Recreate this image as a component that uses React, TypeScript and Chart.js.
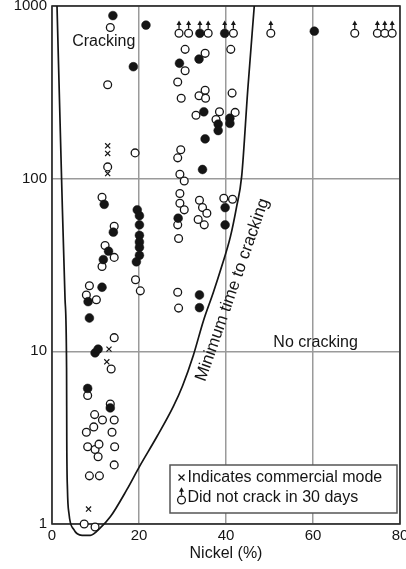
import React, { useEffect, useRef } from "react";
import { Chart, registerables } from "chart.js";

Chart.register(...registerables);

// ---- Data (x = Nickel %, y = time to cracking, hours) ----
const crackedPoints: [number, number][] = [
  [14.0, 880], [21.6, 775], [60.3, 715], [18.7, 445], [29.3, 466], [33.8, 493],
  [34.9, 244], [38.2, 207], [38.2, 190], [40.9, 224], [40.9, 209], [35.2, 170],
  [34.6, 113], [29.0, 59], [33.9, 21.2], [33.9, 17.9], [39.8, 68], [39.8, 54],
  [19.6, 66], [20.1, 61], [20.1, 54], [20.1, 47], [20.1, 43], [20.1, 40], [20.1, 36], [19.4, 33],
  [12.0, 71], [14.1, 49], [13.0, 38], [11.8, 34], [11.5, 23.5], [8.3, 19.4], [8.6, 15.6],
  [9.9, 9.8], [10.6, 10.3], [8.2, 6.1], [13.4, 4.7],
];

const notCrackedPoints: [number, number][] = [
  [13.4, 750], [12.8, 350], [19.1, 141], [12.8, 117], [30.6, 561], [35.2, 532], [41.1, 561],
  [30.6, 422], [28.9, 363], [29.7, 292], [33.8, 302], [35.2, 325], [35.3, 292], [41.4, 313],
  [33.1, 233], [38.5, 244], [37.7, 220], [42.1, 242], [29.6, 147], [28.9, 132], [29.4, 106],
  [30.4, 97], [29.4, 82], [29.4, 72], [30.4, 66], [28.9, 54], [29.1, 45], [33.9, 75],
  [34.6, 68], [35.6, 63], [33.6, 58], [35.0, 54], [39.5, 77], [41.5, 76], [19.2, 26],
  [20.3, 22.4], [28.9, 22], [29.1, 17.8], [11.5, 78], [14.3, 53], [12.2, 41], [11.5, 31],
  [14.3, 35], [8.6, 24], [7.9, 21.2], [10.2, 19.9], [14.3, 12.0], [13.6, 7.9], [8.2, 5.55],
  [13.4, 4.95], [9.8, 4.3], [11.6, 4.0], [14.3, 4.0], [9.6, 3.65], [7.9, 3.4], [13.8, 3.4],
  [8.2, 2.8], [9.9, 2.7], [10.8, 2.9], [14.4, 2.8], [10.6, 2.45], [14.3, 2.2], [8.6, 1.9],
  [10.9, 1.9], [7.4, 1.0], [8.2, 0.92], [9.9, 0.96],
];

const notCrackedArrowPoints: [number, number][] = [
  [29.2, 695], [31.4, 695], [35.9, 695], [41.7, 695], [50.3, 695],
  [69.6, 695], [74.8, 695], [76.5, 695], [78.2, 695],
];

const crackedArrowPoints: [number, number][] = [[34.0, 695], [39.7, 695]];

const commercialPoints: [number, number][] = [
  [21.6, 775], [12.8, 155], [12.8, 140], [12.8, 107], [13.1, 10.3], [12.6, 8.7], [8.4, 1.22],
];

const minimumCurve: [number, number][] = [
  [1.15, 1000], [2.2, 100], [3.0, 20], [3.35, 8], [3.4, 3], [3.55, 1.6], [3.9, 1.15],
  [5.0, 0.93], [6.9, 0.86], [8.8, 0.86], [11.1, 0.95], [13.4, 1.1], [17.2, 1.58],
  [20.1, 2.15], [24.1, 3.2], [27.9, 4.8], [30.0, 6.3], [32.5, 9.5], [34.8, 15],
  [37.1, 22], [39.0, 31], [41.0, 46], [42.4, 68], [43.6, 103], [45.0, 326], [46.5, 1000],
];

const xTickValues = [0, 20, 40, 60, 80];
const yTickValues = [1, 10, 100, 1000];

const FONT = '"Liberation Sans", Arial, Helvetica, sans-serif';
const INK = "#151515";

const toXY = (arr: [number, number][]) => arr.map(([x, y]) => ({ x, y }));

function drawArrowAbove(ctx: CanvasRenderingContext2D, x: number, y: number) {
  ctx.save();
  ctx.strokeStyle = INK;
  ctx.fillStyle = INK;
  ctx.lineWidth = 1.3;
  ctx.beginPath();
  ctx.moveTo(x, y - 4.6);
  ctx.lineTo(x, y - 9);
  ctx.stroke();
  ctx.beginPath();
  ctx.moveTo(x, y - 12.8);
  ctx.lineTo(x - 2.5, y - 8.2);
  ctx.lineTo(x + 2.5, y - 8.2);
  ctx.closePath();
  ctx.fill();
  ctx.restore();
}

export default function App() {
  const ref = useRef<HTMLCanvasElement>(null);

  useEffect(() => {
    document.body.style.margin = "0";

    const framePlugin = {
      id: "frame",
      beforeDatasetsDraw(chart: any) {
        const { ctx, chartArea: a } = chart;
        ctx.save();
        ctx.strokeStyle = "#2a2a2a";
        ctx.lineWidth = 1.6;
        ctx.strokeRect(a.left, a.top, a.right - a.left, a.bottom - a.top);
        ctx.restore();
      },
    };

    const notesPlugin = {
      id: "notes",
      afterDatasetsDraw(chart: any) {
        const { ctx, chartArea: a } = chart;
        const xs = chart.scales.x;
        const ys = chart.scales.y;

        // arrows above the "did not crack in 30 days" marks
        chart.data.datasets.forEach((ds: any, i: number) => {
          if (!ds.arrowAbove) return;
          chart.getDatasetMeta(i).data.forEach((pt: any) => drawArrowAbove(ctx, pt.x, pt.y));
        });

        ctx.save();
        ctx.fillStyle = INK;
        ctx.textAlign = "center";
        ctx.textBaseline = "middle";
        ctx.font = `16px ${FONT}`;
        ctx.fillText("Cracking", xs.getPixelForValue(11.9), ys.getPixelForValue(622));
        ctx.fillText("No cracking", xs.getPixelForValue(60.6), ys.getPixelForValue(11.2));

        ctx.save();
        ctx.translate(xs.getPixelForValue(41.5), ys.getPixelForValue(22.7));
        ctx.rotate((-70.7 * Math.PI) / 180);
        ctx.font = `17px ${FONT}`;
        ctx.fillText("Minimum time to cracking", 0, 0);
        ctx.restore();

        // legend box
        const bx = a.right - 230;
        const by = a.bottom - 59;
        const bw = 227;
        const bh = 48;
        ctx.fillStyle = "#fff";
        ctx.fillRect(bx, by, bw, bh);
        ctx.strokeStyle = "#555";
        ctx.lineWidth = 1.5;
        ctx.strokeRect(bx, by, bw, bh);

        // row 1: cross
        const sx = bx + 11.5;
        const r1 = by + 12.5;
        ctx.strokeStyle = INK;
        ctx.lineWidth = 1.2;
        ctx.beginPath();
        ctx.moveTo(sx - 3, r1 - 3);
        ctx.lineTo(sx + 3, r1 + 3);
        ctx.moveTo(sx + 3, r1 - 3);
        ctx.lineTo(sx - 3, r1 + 3);
        ctx.stroke();
        ctx.fillStyle = INK;
        ctx.textAlign = "left";
        ctx.font = `16px ${FONT}`;
        ctx.fillText("Indicates commercial mode", bx + 17.5, r1);

        // row 2: open circle with arrow
        const r2 = by + 33;
        const cy = r2 + 2;
        ctx.fillStyle = "#fff";
        ctx.strokeStyle = INK;
        ctx.lineWidth = 1.3;
        ctx.beginPath();
        ctx.arc(sx, cy, 3.9, 0, Math.PI * 2);
        ctx.fill();
        ctx.stroke();
        drawArrowAbove(ctx, sx, cy);
        ctx.fillStyle = INK;
        ctx.fillText("Did not crack in 30 days", bx + 17.5, r2);
        ctx.restore();
      },
    };

    const chart = new Chart(ref.current!, {
      type: "scatter",
      data: {
        datasets: [
          {
            label: "Minimum time to cracking",
            data: toXY(minimumCurve),
            showLine: true,
            borderColor: INK,
            borderWidth: 1.7,
            pointRadius: 0,
            cubicInterpolationMode: "monotone",
            clip: false,
          } as any,
          {
            label: "Cracked",
            data: toXY(crackedPoints),
            pointStyle: "circle",
            pointRadius: 4.4,
            backgroundColor: INK,
            borderColor: INK,
            borderWidth: 0.5,
            clip: false,
          } as any,
          {
            label: "Did not crack",
            data: toXY(notCrackedPoints),
            pointStyle: "circle",
            pointRadius: 3.9,
            backgroundColor: "#fff",
            borderColor: INK,
            borderWidth: 1.3,
            clip: false,
          } as any,
          {
            label: "Did not crack in 30 days",
            data: toXY(notCrackedArrowPoints),
            pointStyle: "circle",
            pointRadius: 3.9,
            backgroundColor: "#fff",
            borderColor: INK,
            borderWidth: 1.3,
            arrowAbove: true,
            clip: false,
          } as any,
          {
            label: "Cracked (30 days)",
            data: toXY(crackedArrowPoints),
            pointStyle: "circle",
            pointRadius: 4.4,
            backgroundColor: INK,
            borderColor: INK,
            borderWidth: 0.5,
            arrowAbove: true,
            clip: false,
          } as any,
          {
            label: "Commercial mode",
            data: toXY(commercialPoints),
            pointStyle: "crossRot",
            pointRadius: 3.6,
            borderColor: INK,
            borderWidth: 1.2,
            clip: false,
          } as any,
        ],
      },
      options: {
        animation: false,
        responsive: false,
        devicePixelRatio: 1,
        layout: { padding: { top: 6, right: 6, left: 0, bottom: 0 } },
        plugins: {
          legend: { display: false },
          tooltip: { enabled: false },
        },
        scales: {
          x: {
            type: "linear",
            min: 0,
            max: 80,
            afterBuildTicks: (scale: any) => {
              scale.ticks = xTickValues.map((value) => ({ value }));
            },
            afterFit: (scale: any) => {
              scale.height = 45;
              scale.paddingLeft = 0;
              scale.paddingRight = 0;
            },
            ticks: {
              font: { size: 15, family: FONT },
              color: INK,
              padding: 3,
              maxRotation: 0,
              callback: (v: any) => String(v),
            },
            grid: { color: "#9a9a9a", lineWidth: 1.5, drawTicks: false },
            border: { display: false },
            title: {
              display: true,
              text: "Nickel (%)",
              font: { size: 16, family: FONT },
              color: INK,
              padding: { top: 0, bottom: 6 },
            },
          },
          y: {
            type: "logarithmic",
            min: 1,
            max: 1000,
            afterBuildTicks: (scale: any) => {
              scale.ticks = yTickValues.map((value) => ({ value }));
            },
            afterFit: (scale: any) => {
              scale.width = 52;
              scale.paddingTop = 0;
              scale.paddingBottom = 0;
            },
            ticks: {
              font: { size: 15, family: FONT },
              color: INK,
              padding: 5,
              callback: (v: any) => String(v),
            },
            grid: { color: "#9a9a9a", lineWidth: 1.5, drawTicks: false },
            border: { display: false },
          },
        },
      } as any,
      plugins: [framePlugin, notesPlugin],
    });

    return () => chart.destroy();
  }, []);

  return (
    <div style={{ position: "absolute", left: 0, top: 0, width: 406, height: 569, background: "#fff" }}>
      <canvas ref={ref} width={406} height={569} style={{ display: "block", width: 406, height: 569 }} />
    </div>
  );
}
